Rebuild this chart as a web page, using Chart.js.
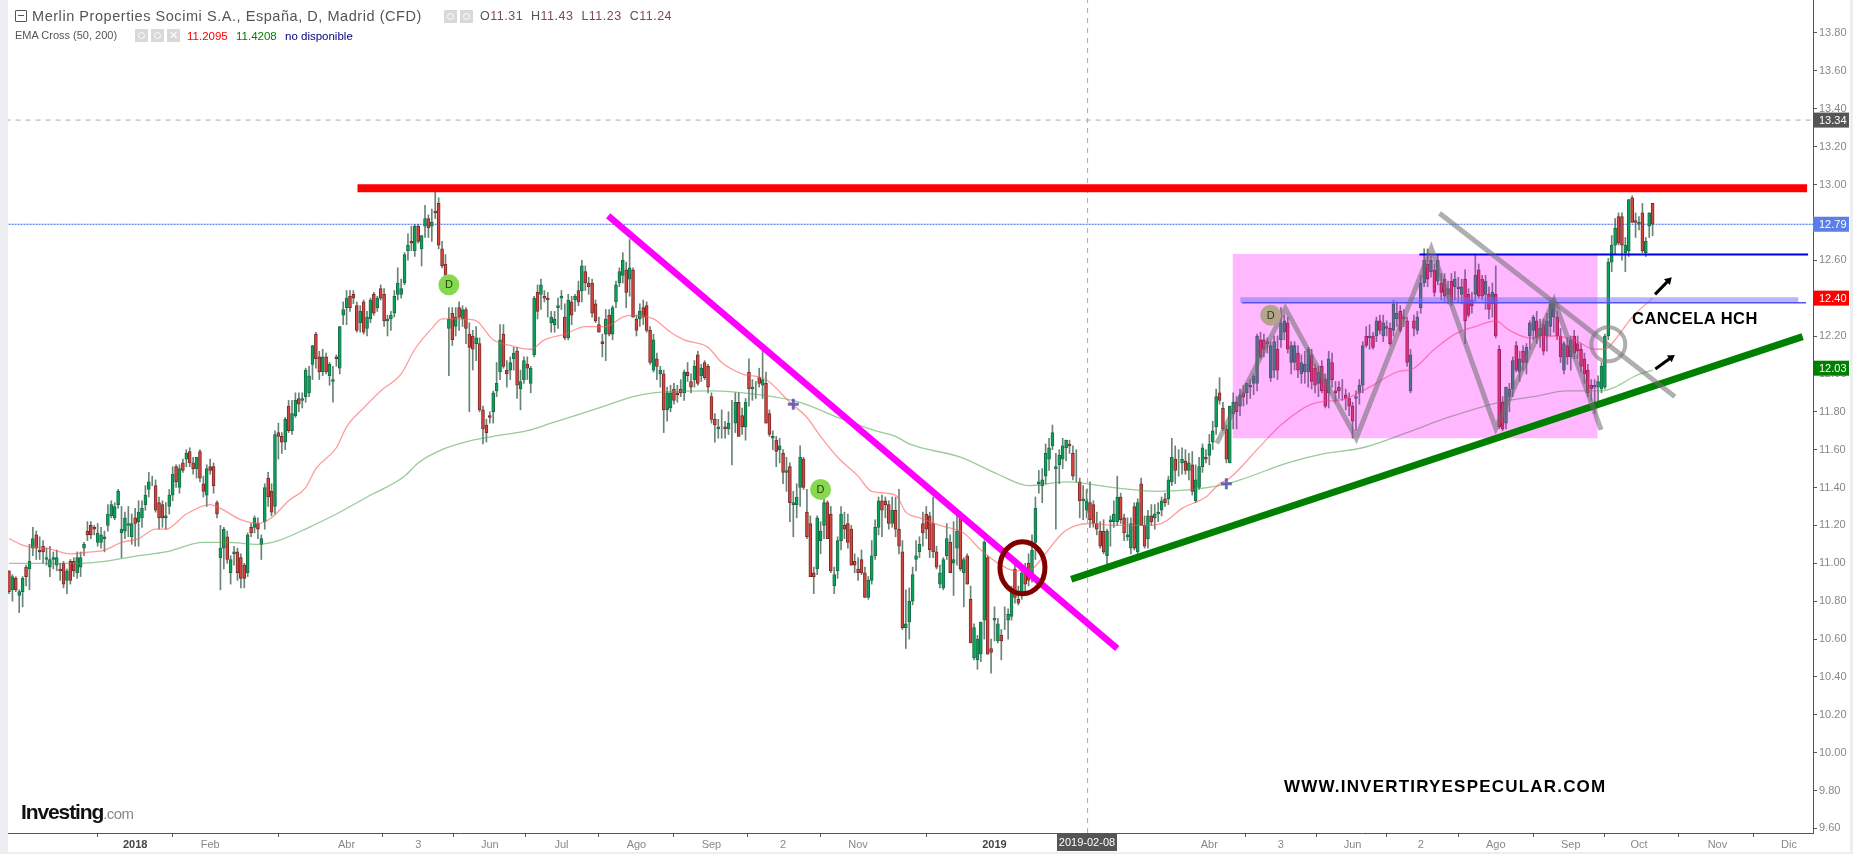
<!DOCTYPE html>
<html>
<head>
<meta charset="utf-8">
<title>Merlin Properties</title>
<script src="https://cdn.jsdelivr.net/npm/chart.js@4"></script>
<style>
    html, body { margin: 0; padding: 0; width: 1853px; height: 854px; overflow: hidden; background: #eceef2; font-family: "Liberation Sans", Arial, sans-serif; }
    #paper { position: absolute; left: 8px; top: 0; width: 1842px; height: 852px; background: #fff; }
    #wrap { position: absolute; left: 0; top: 0; width: 1853px; height: 854px; }
    #wrap canvas { filter: blur(0.35px); }
    .t { position: absolute; white-space: nowrap; }
    .ico { position: absolute; width: 13px; height: 13px; background: #d9d9d9; color: #fff; font-size: 11px; line-height: 13px; text-align: center; }
    .ico i { display: block; width: 5px; height: 5px; border: 1px solid #fff; border-radius: 50%; margin: 3px; }
</style>
</head>
<body>
<div id="paper"></div>
<div id="wrap"><canvas id="priceChart"></canvas></div>

<div style="position:absolute;left:15px;top:10px;width:10px;height:10px;border:1px solid #555;border-radius:1px"></div>
<div style="position:absolute;left:18px;top:15px;width:6px;height:1px;background:#555"></div>
<div class="t" style="left:32px;top:8px;font-size:14.5px;letter-spacing:.55px;color:#555">Merlin Properties Socimi S.A., España, D, Madrid (CFD)</div>
<div class="ico" style="left:444px;top:10px"><i></i></div>
<div class="ico" style="left:460px;top:10px"><i></i></div>
<div class="t" style="left:480px;top:9px;font-size:12.5px;letter-spacing:.5px;color:#555">O<span style="color:#7d4a4a">11.31</span>&nbsp;&nbsp;H<span style="color:#7d4a4a">11.43</span>&nbsp;&nbsp;L<span style="color:#7d4a4a">11.23</span>&nbsp;&nbsp;C<span style="color:#7d4a4a">11.24</span></div>
<div class="t" style="left:15px;top:29px;font-size:11px;color:#555">EMA Cross (50, 200)</div>
<div class="ico" style="left:135px;top:29px"><i></i></div>
<div class="ico" style="left:151px;top:29px"><i></i></div>
<div class="ico" style="left:167px;top:29px">✕</div>
<div class="t" style="left:187px;top:30px;font-size:11.5px;color:#ff0000">11.2095</div>
<div class="t" style="left:236px;top:30px;font-size:11.5px;color:#008000">11.4208</div>
<div class="t" style="left:285px;top:30px;font-size:11.5px;color:#000080">no disponible</div>

<div class="t" style="left:1632px;top:309px;font-size:16.5px;font-weight:bold;letter-spacing:.5px;color:#000">CANCELA HCH</div>
<div class="t" style="left:1284px;top:777px;font-size:17px;font-weight:bold;letter-spacing:1.2px;color:#000">WWW.INVERTIRYESPECULAR.COM</div>
<div class="t" style="left:21px;top:800px;font-size:21px;font-weight:bold;letter-spacing:-1.1px;color:#111">Investing<span style="font-size:15px;font-weight:normal;color:#888;letter-spacing:-.6px">.com</span></div>

<script>
// Daily candles, one entry per session
const opens = [
    10.96,10.86,10.92,10.83,10.85,10.98,10.97,11.08,11.15,11.07,
    11.09,11.02,10.98,11.02,10.99,10.97,11.00,10.91,11.01,11.01,
    10.95,10.98,11.08,11.17,11.20,11.19,11.11,11.11,11.13,11.20,
    11.25,11.24,11.31,11.16,11.17,11.20,11.14,11.24,11.22,11.24,
    11.31,11.39,11.43,11.41,11.32,11.31,11.24,11.30,11.36,11.51,
    11.40,11.53,11.55,11.59,11.53,11.50,11.59,11.42,11.36,11.51,
    11.51,11.32,11.03,11.08,11.14,10.95,11.05,11.06,11.03,10.99,
    10.95,11.19,11.19,11.21,11.10,11.22,11.45,11.38,11.30,11.69,
    11.67,11.64,11.83,11.70,11.78,11.87,11.86,11.88,11.90,12.05,
    12.21,12.09,12.01,12.09,11.99,11.96,12.09,12.03,12.31,12.35,
    12.41,12.42,12.36,12.27,12.38,12.24,12.29,12.42,12.35,12.45,
    12.42,12.28,12.29,12.32,12.42,12.42,12.48,12.65,12.70,12.65,
    12.78,12.66,12.78,12.82,12.78,12.86,12.90,12.66,12.58,12.24,
    12.32,12.25,12.35,12.29,12.34,12.21,12.20,12.16,12.16,11.81,
    11.73,11.78,11.80,11.91,12.01,12.21,12.02,12.02,12.08,12.12,
    11.92,11.97,12.05,11.95,12.10,12.43,12.42,12.41,12.40,12.27,
    12.26,12.35,12.40,12.30,12.19,12.38,12.39,12.44,12.44,12.54,
    12.48,12.48,12.37,12.26,12.17,12.21,12.31,12.21,12.38,12.48,
    12.52,12.55,12.50,12.55,12.29,12.29,12.35,12.36,12.23,12.02,
    12.08,12.00,12.00,11.81,11.82,11.92,11.90,11.92,11.90,12.01,
    11.96,11.97,12.10,11.99,12.06,12.04,11.88,11.76,11.71,11.71,
    11.72,11.71,11.73,11.74,11.85,11.78,11.72,12.01,11.92,11.93,
    11.98,11.94,11.95,11.79,11.66,11.65,11.60,11.58,11.48,11.51,
    11.31,11.31,11.40,11.55,11.27,11.21,10.95,10.97,11.12,11.20,
    11.32,11.26,10.88,10.96,11.12,11.20,11.21,11.18,11.01,10.97,
    11.02,10.95,10.82,10.91,11.04,11.19,11.33,11.33,11.31,11.21,
    11.28,11.18,11.06,10.66,10.69,10.80,11.02,11.06,11.21,11.26,
    11.25,11.21,11.06,10.89,10.87,11.04,11.11,11.00,11.08,11.24,
    10.95,11.04,10.81,10.50,10.49,10.52,10.70,11.03,10.55,10.70,
    10.59,10.62,10.71,10.70,10.72,10.97,10.81,10.84,10.96,11.00,
    10.94,11.11,11.42,11.41,11.46,11.55,11.62,11.50,11.52,11.55,
    11.61,11.63,11.58,11.49,11.43,11.33,11.28,11.32,11.31,11.21,
    11.17,11.17,11.04,11.22,11.22,11.22,11.35,11.24,11.14,11.08,
    11.30,11.06,11.42,11.20,11.13,11.25,11.24,11.26,11.28,11.34,
    11.34,11.43,11.55,11.53,11.53,11.54,11.49,11.52,11.33,11.40,
    11.51,11.56,11.57,11.64,11.72,11.90,11.82,11.71,11.53,11.79,
    11.85,11.83,11.90,11.90,11.93,11.95,11.95,12.18,12.18,12.16,
    11.98,12.02,12.13,12.18,12.22,12.27,12.06,12.06,12.11,12.00,
    12.01,12.01,12.10,12.03,11.95,12.04,11.97,11.90,12.06,11.91,
    11.93,11.93,11.89,11.87,11.83,11.87,11.90,11.94,12.20,12.19,
    12.20,12.20,12.28,12.20,12.24,12.24,12.23,12.29,12.33,12.30,
    12.28,11.91,12.28,12.23,12.35,12.48,12.58,12.54,12.55,12.49,
    12.48,12.50,12.42,12.49,12.46,12.45,12.42,12.50,12.42,12.39,
    12.42,12.55,12.50,12.42,12.42,12.37,12.42,12.13,11.85,11.74,
    11.88,11.92,12.15,12.01,12.12,12.06,12.20,12.23,12.28,12.20,
    12.26,12.20,12.25,12.30,12.30,12.20,12.02,12.15,12.09,12.20,
    12.16,12.13,12.08,12.02,11.94,11.93,11.93,11.92,11.93,12.20,
    12.59,12.68,12.83,12.83,12.64,12.65,12.93,12.81,12.79,12.85,
    12.64,12.78,12.90
];
const highs = [
    10.96,10.94,10.93,10.86,10.93,10.99,11.10,11.19,11.17,11.14,
    11.12,11.08,11.09,11.06,11.07,11.00,11.01,10.97,11.02,11.03,
    11.06,11.06,11.11,11.22,11.22,11.20,11.21,11.19,11.17,11.31,
    11.33,11.32,11.39,11.30,11.27,11.30,11.26,11.29,11.33,11.33,
    11.41,11.48,11.46,11.44,11.35,11.33,11.32,11.39,11.51,11.52,
    11.52,11.55,11.60,11.61,11.56,11.56,11.60,11.46,11.52,11.55,
    11.53,11.33,11.20,11.19,11.17,11.04,11.09,11.08,11.05,11.00,
    11.16,11.21,11.25,11.24,11.15,11.42,11.48,11.42,11.70,11.74,
    11.69,11.77,11.86,11.86,11.90,11.90,11.90,12.03,12.04,12.15,
    12.22,12.12,12.13,12.11,12.06,12.04,12.10,12.25,12.38,12.44,
    12.44,12.44,12.38,12.36,12.39,12.33,12.40,12.43,12.41,12.47,
    12.45,12.31,12.33,12.44,12.56,12.50,12.64,12.74,12.78,12.79,
    12.79,12.73,12.89,12.84,12.87,12.96,12.93,12.70,12.63,12.35,
    12.35,12.35,12.38,12.36,12.35,12.27,12.23,12.25,12.19,11.83,
    11.76,11.80,11.91,12.06,12.26,12.26,12.07,12.09,12.14,12.14,
    12.02,12.09,12.09,12.04,12.41,12.47,12.50,12.44,12.43,12.33,
    12.33,12.40,12.44,12.37,12.42,12.41,12.42,12.49,12.60,12.57,
    12.51,12.50,12.39,12.30,12.21,12.34,12.34,12.36,12.49,12.56,
    12.64,12.59,12.71,12.56,12.31,12.37,12.39,12.38,12.25,12.21,
    12.11,12.04,12.02,11.93,11.94,11.95,11.94,11.97,12.02,12.06,
    12.00,12.07,12.12,12.05,12.07,12.05,11.90,11.79,11.76,11.81,
    11.75,11.80,11.86,11.90,11.90,11.82,11.87,12.08,11.97,11.96,
    12.03,12.13,12.01,11.81,11.70,11.67,11.66,11.60,11.56,11.53,
    11.38,11.42,11.62,11.56,11.39,11.25,10.98,11.25,11.22,11.34,
    11.33,11.30,10.98,11.14,11.30,11.27,11.26,11.20,11.05,11.03,
    11.07,10.98,10.93,11.12,11.23,11.35,11.36,11.35,11.33,11.35,
    11.35,11.39,11.12,10.86,10.87,10.98,11.12,11.14,11.27,11.30,
    11.27,11.35,11.09,10.99,11.03,11.21,11.15,11.22,11.26,11.27,
    11.03,11.05,10.88,10.68,10.62,10.69,11.12,11.04,10.60,10.77,
    10.71,10.65,10.77,10.76,10.88,11.00,10.88,10.96,11.00,11.05,
    11.15,11.35,11.49,11.50,11.63,11.66,11.73,11.58,11.60,11.66,
    11.65,11.65,11.62,11.60,11.45,11.41,11.39,11.43,11.33,11.27,
    11.22,11.23,11.18,11.25,11.33,11.46,11.37,11.26,11.24,11.24,
    11.32,11.34,11.45,11.25,11.28,11.31,11.31,11.32,11.35,11.37,
    11.46,11.66,11.62,11.60,11.61,11.60,11.58,11.59,11.52,11.56,
    11.63,11.60,11.68,11.75,11.92,11.98,11.85,11.73,11.83,11.90,
    11.88,11.92,11.94,11.95,11.97,12.00,12.21,12.22,12.21,12.19,
    12.17,12.20,12.20,12.35,12.31,12.30,12.17,12.17,12.15,12.10,
    12.12,12.14,12.13,12.05,12.04,12.07,12.00,12.12,12.11,11.96,
    11.96,11.97,11.92,11.90,11.85,11.91,11.97,12.17,12.25,12.26,
    12.22,12.30,12.31,12.31,12.28,12.27,12.39,12.38,12.36,12.34,
    12.30,12.13,12.31,12.33,12.52,12.66,12.66,12.62,12.58,12.63,
    12.53,12.53,12.49,12.53,12.54,12.51,12.50,12.55,12.45,12.43,
    12.63,12.58,12.52,12.52,12.46,12.48,12.57,12.15,11.88,11.93,
    11.95,12.09,12.17,12.12,12.15,12.16,12.28,12.31,12.33,12.29,
    12.29,12.32,12.39,12.40,12.33,12.24,12.17,12.19,12.20,12.23,
    12.20,12.16,12.11,12.05,11.97,11.97,11.99,12.06,12.21,12.61,
    12.73,12.82,12.85,12.85,12.72,12.92,12.94,12.85,12.83,12.90,
    12.72,12.85,12.90
];
const lows = [
    10.84,10.80,10.85,10.74,10.77,10.88,10.86,11.04,11.02,11.02,
    11.00,10.99,10.93,10.97,10.96,10.91,10.87,10.84,10.89,10.93,
    10.92,10.93,11.04,11.12,11.13,11.15,11.09,11.08,11.06,11.17,
    11.24,11.23,11.29,11.03,11.13,11.14,11.10,11.09,11.09,11.19,
    11.28,11.35,11.41,11.27,11.18,11.19,11.18,11.26,11.33,11.40,
    11.37,11.48,11.51,11.51,11.47,11.45,11.43,11.35,11.30,11.47,
    11.37,11.24,10.86,10.97,11.00,10.89,10.99,10.91,10.87,10.87,
    10.93,11.14,11.16,11.13,11.02,11.18,11.30,11.25,11.26,11.55,
    11.58,11.60,11.69,11.68,11.77,11.80,11.82,11.85,11.88,11.97,
    12.03,11.97,11.99,12.00,11.94,11.85,12.04,12.00,12.26,12.26,
    12.33,12.37,12.22,12.22,12.21,12.20,12.27,12.31,12.33,12.39,
    12.25,12.20,12.23,12.30,12.39,12.40,12.47,12.60,12.65,12.62,
    12.69,12.57,12.72,12.72,12.70,12.82,12.66,12.56,12.49,11.99,
    12.15,12.20,12.23,12.25,12.16,11.80,12.02,12.07,11.80,11.63,
    11.64,11.74,11.74,11.88,11.97,12.03,11.93,11.97,12.02,11.87,
    11.81,11.95,11.97,11.90,12.09,12.29,12.34,12.38,12.30,12.22,
    12.22,12.24,12.34,12.18,12.18,12.26,12.33,12.36,12.38,12.44,
    12.42,12.30,12.27,12.22,12.09,12.07,12.20,12.18,12.35,12.46,
    12.48,12.35,12.41,12.30,12.20,12.25,12.26,12.22,12.05,12.01,
    11.97,11.93,11.69,11.75,11.80,11.84,11.85,11.88,11.86,11.96,
    11.90,11.93,11.94,11.96,11.97,11.90,11.74,11.64,11.66,11.66,
    11.66,11.68,11.52,11.69,11.67,11.68,11.65,11.83,11.86,11.87,
    11.93,11.87,11.74,11.67,11.60,11.51,11.53,11.42,11.38,11.22,
    11.14,11.24,11.30,11.39,11.13,10.93,10.84,10.94,11.05,11.13,
    11.13,10.95,10.84,10.92,11.07,11.13,11.08,10.99,10.95,10.91,
    10.94,10.82,10.81,10.89,11.02,11.15,11.14,11.24,11.18,11.19,
    11.14,11.05,10.65,10.55,10.60,10.78,10.96,11.03,11.09,11.13,
    11.03,11.03,10.97,10.87,10.86,11.02,10.95,10.83,10.99,10.96,
    10.77,10.89,10.58,10.49,10.44,10.48,10.60,10.52,10.42,10.59,
    10.58,10.49,10.65,10.60,10.70,10.79,10.78,10.81,10.85,10.88,
    10.90,11.02,11.37,11.32,11.42,11.49,11.60,11.18,11.42,11.50,
    11.54,11.58,11.44,11.43,11.24,11.23,11.24,11.19,11.19,11.15,
    11.08,11.05,10.99,11.09,11.19,11.20,11.21,11.12,11.12,11.05,
    11.07,11.04,11.20,11.08,11.08,11.20,11.18,11.22,11.25,11.30,
    11.31,11.41,11.42,11.46,11.47,11.47,11.44,11.36,11.32,11.39,
    11.48,11.53,11.52,11.60,11.68,11.84,11.70,11.53,11.53,11.71,
    11.71,11.78,11.83,11.84,11.87,11.89,11.91,12.08,12.09,12.11,
    11.96,11.98,11.97,12.14,12.18,12.11,12.00,12.02,11.98,11.95,
    11.95,11.93,11.92,11.90,11.88,11.90,11.82,11.82,11.93,11.85,
    11.87,11.86,11.81,11.78,11.66,11.70,11.84,11.90,12.14,12.13,
    12.13,12.17,12.21,12.17,12.20,12.15,12.20,12.25,12.22,12.25,
    12.04,11.90,12.20,12.21,12.32,12.46,12.46,12.51,12.41,12.47,
    12.39,12.38,12.37,12.36,12.39,12.38,12.37,12.16,12.30,12.32,
    12.38,12.40,12.39,12.34,12.29,12.30,12.19,11.71,11.70,11.71,
    11.80,11.88,12.01,11.96,12.02,12.00,12.13,12.18,12.16,12.14,
    12.10,12.12,12.20,12.22,12.18,12.06,12.00,12.05,12.02,12.08,
    12.08,12.01,11.95,11.88,11.86,11.79,11.85,11.90,11.92,12.18,
    12.54,12.63,12.68,12.60,12.54,12.62,12.80,12.72,12.76,12.64,
    12.62,12.72,12.73
];
const closes = [
    10.85,10.93,10.86,10.85,10.92,10.93,11.01,11.13,11.08,11.06,
    11.06,11.03,11.02,11.03,11.03,10.96,10.89,10.96,10.91,10.96,
    11.03,11.03,11.10,11.15,11.15,11.18,11.16,11.15,11.14,11.26,
    11.31,11.30,11.38,11.18,11.24,11.21,11.21,11.21,11.27,11.29,
    11.36,11.43,11.43,11.28,11.24,11.24,11.25,11.36,11.47,11.43,
    11.50,11.49,11.58,11.53,11.50,11.56,11.45,11.38,11.50,11.49,
    11.41,11.26,11.08,11.18,11.02,11.02,11.06,10.95,10.92,10.92,
    11.15,11.16,11.24,11.18,11.13,11.40,11.35,11.27,11.68,11.67,
    11.64,11.76,11.70,11.79,11.86,11.84,11.87,12.02,11.99,12.15,
    12.08,12.01,12.09,12.01,12.05,11.97,12.08,12.25,12.34,12.40,
    12.35,12.40,12.23,12.33,12.22,12.30,12.39,12.32,12.40,12.40,
    12.28,12.29,12.31,12.41,12.48,12.45,12.63,12.68,12.69,12.78,
    12.70,12.73,12.82,12.77,12.80,12.85,12.68,12.57,12.52,12.29,
    12.18,12.30,12.30,12.34,12.24,12.14,12.13,12.19,11.81,11.71,
    11.69,11.77,11.90,11.95,12.18,12.04,12.00,12.06,12.11,11.94,
    11.96,12.07,12.03,12.03,12.40,12.33,12.47,12.40,12.39,12.30,
    12.29,12.36,12.41,12.19,12.39,12.31,12.41,12.38,12.57,12.48,
    12.46,12.32,12.28,12.22,12.16,12.29,12.21,12.35,12.47,12.54,
    12.60,12.43,12.56,12.30,12.23,12.33,12.30,12.23,12.06,12.18,
    12.04,12.02,11.81,11.90,11.90,11.86,11.89,11.90,12.01,11.99,
    11.93,12.04,11.95,12.03,11.98,11.93,11.76,11.73,11.72,11.71,
    11.71,11.74,11.73,11.85,11.67,11.72,11.85,11.92,11.93,11.93,
    11.95,11.97,11.74,11.68,11.67,11.59,11.62,11.48,11.49,11.32,
    11.32,11.35,11.56,11.40,11.14,10.93,10.93,11.24,11.17,11.32,
    11.13,10.96,10.94,11.12,11.26,11.18,11.11,10.99,10.99,10.95,
    10.95,10.82,10.91,11.04,11.19,11.33,11.28,11.31,11.21,11.28,
    11.18,11.09,10.66,10.68,10.80,10.94,11.04,11.10,11.16,11.18,
    11.07,11.06,10.98,10.95,11.02,11.13,10.95,11.02,11.17,10.97,
    11.02,10.89,10.58,10.66,10.60,10.69,11.11,10.52,10.53,10.71,
    10.68,10.59,10.71,10.73,10.86,10.82,10.79,10.95,10.89,10.91,
    11.07,11.29,11.43,11.44,11.58,11.61,11.69,11.51,11.57,11.62,
    11.65,11.62,11.46,11.49,11.33,11.34,11.33,11.23,11.21,11.18,
    11.09,11.06,11.17,11.23,11.26,11.35,11.23,11.16,11.15,11.21,
    11.08,11.32,11.20,11.09,11.25,11.22,11.26,11.27,11.33,11.32,
    11.44,11.56,11.49,11.53,11.55,11.49,11.53,11.38,11.44,11.51,
    11.61,11.55,11.63,11.70,11.88,11.86,11.71,11.55,11.83,11.85,
    11.80,11.89,11.88,11.95,11.94,11.99,12.20,12.09,12.13,12.17,
    12.15,12.17,12.02,12.27,12.28,12.13,12.15,12.15,12.02,12.06,
    12.05,12.13,11.96,11.94,12.01,11.91,11.83,12.08,11.97,11.90,
    11.91,11.93,11.87,11.83,11.75,11.88,11.94,12.15,12.15,12.20,
    12.14,12.28,12.23,12.27,12.25,12.16,12.37,12.32,12.23,12.29,
    12.06,12.10,12.24,12.30,12.48,12.60,12.50,12.60,12.43,12.60,
    12.43,12.41,12.45,12.38,12.50,12.46,12.46,12.28,12.31,12.36,
    12.52,12.41,12.41,12.49,12.34,12.43,12.20,11.72,11.71,11.93,
    11.92,12.07,12.02,12.08,12.06,12.14,12.27,12.30,12.19,12.24,
    12.12,12.28,12.37,12.38,12.20,12.09,12.16,12.09,12.18,12.11,
    12.12,12.04,12.00,11.90,11.92,11.94,11.96,12.04,12.20,12.59,
    12.68,12.77,12.69,12.68,12.68,12.92,12.80,12.80,12.80,12.65,
    12.70,12.85,12.79
];

// EMA curves, read at the bends
const ema50Days = [0,5,11,18,24,28,33,38,43,46,52,59,62,68,73,77,82,87,90,96,99,104,109,115,119,124,127,133,137,142,147,153,157,163,169,175,180,183,189,194,198,205,209,215,222,229,234,238,243,249,253,260,263,267,273,280,285,291,295,300,303,309,313,317,324,332,338,344,351,355,358,367,373,382,392,399,407,412,418,424,430,436,440,446,453,459,465,468,471,476,482];
const ema50Values = [11.13,11.09,11.08,11.05,11.06,11.07,11.11,11.13,11.18,11.18,11.26,11.31,11.29,11.23,11.21,11.24,11.33,11.40,11.50,11.61,11.72,11.82,11.91,12.00,12.13,12.24,12.29,12.29,12.28,12.18,12.15,12.13,12.18,12.21,12.25,12.25,12.30,12.31,12.29,12.22,12.18,12.14,12.06,12.00,11.97,11.85,11.77,11.67,11.56,11.46,11.38,11.36,11.27,11.24,11.20,11.16,11.07,10.99,10.96,10.97,11.03,11.16,11.20,11.21,11.20,11.20,11.21,11.29,11.35,11.42,11.45,11.62,11.73,11.84,11.87,11.93,12.01,12.03,12.13,12.21,12.25,12.28,12.23,12.19,12.20,12.18,12.13,12.13,12.18,12.30,12.40];
const ema200Days = [0,5,12,21,28,38,46,57,64,73,79,88,96,105,116,120,127,136,142,152,159,166,173,183,189,206,220,232,243,254,260,264,279,290,299,310,324,336,355,361,375,386,397,410,422,437,447,457,467,471,477,482];
const ema200Values = [11.00,11.00,11.00,11.00,11.01,11.04,11.06,11.11,11.11,11.10,11.12,11.19,11.26,11.35,11.46,11.53,11.60,11.65,11.67,11.70,11.74,11.78,11.82,11.88,11.90,11.91,11.89,11.85,11.77,11.70,11.67,11.63,11.56,11.47,11.41,11.43,11.40,11.38,11.41,11.44,11.53,11.58,11.61,11.69,11.77,11.85,11.88,11.91,11.91,11.93,11.99,12.02];

// Axis ticks
const priceTicks = [9.6,9.8,10,10.2,10.4,10.6,10.8,11,11.2,11.4,11.6,11.8,12,12.2,12.4,12.6,12.8,13,13.2,13.4,13.6,13.8];
const dayTicks = [37,59,99,120,141,162,184,206,227,249,289,352,373,394,414,436,458,478,501,522];
const dayTickLabels = ['2018','Feb','Abr','3','Jun','Jul','Ago','Sep','2','Nov','2019','Abr','3','Jun','2','Ago','Sep','Oct','Nov','Dic'];

// Drawn-on trend lines, in session / price
const resistDays = [102.2,527.3], resistPrices = [12.98,12.98];
const downTrendDays = [175.7,325], downTrendPrices = [12.835,10.55];
const upTrendDays = [311.5,526], upTrendPrices = [10.916,12.197];
const topLineDays = [413.6,527.6], topLinePrices = [12.63,12.63];
const bandDays = [361.1,524.7], bandPrices = [12.39,12.39];
const neckDays = [361.6,527], neckPrices = [12.375,12.375];
const boxDays = [358.8,465.9], boxTop = 12.633, boxBottom = 11.66;
const zigzagDays = [354.2,374.3,395.1,417.1,436,453.1,466.9];
const zigzagPrices = [11.633,12.346,11.66,12.663,11.713,12.39,11.704];
const neckDownDays = [419.5,488.5], neckDownPrices = [12.848,11.88];
const arrowFrom = [[482.7,12.42],[482.8,12.026]];
const arrowTo = [[487.6,12.51],[488.5,12.10]];
const dotDays = [129,238,370], dotPrices = [12.47,11.39,12.31], dotColors = ['#86d94f','#86d94f','#b3a58c'];
const crossDays = [230,357], crossPrices = [11.84,11.42];
const crossDay = 316.3, crossPrice = 13.34, lastPrice = 12.79;

const GREEN = '#05a65c', RED = '#d8453f';
const days = closes.map((c, i) => i);
const lineSet = (xs, ys, color, width, order, extra) => Object.assign({
    type: 'line',
    data: xs.map((x, i) => ({ x: x, y: ys[i] })),
    borderColor: color,
    borderWidth: width,
    pointRadius: 0,
    order: order
}, extra || {});

const labelsPlugin = {
    id: 'labelsPlugin',
    afterDraw(chart) {
        const ctx = chart.ctx, xs = chart.scales.x, ys = chart.scales.y;
        ctx.save();
        // circled areas
        [[297.2, 10.977, 22.5, 26, '#800000', 5], [469, 12.156, 17, 17, 'rgba(120,120,120,0.6)', 4]].forEach(c => {
            ctx.beginPath();
            ctx.ellipse(xs.getPixelForValue(c[0]), ys.getPixelForValue(c[1]), c[2], c[3], 0, 0, Math.PI * 2);
            ctx.strokeStyle = c[4];
            ctx.lineWidth = c[5];
            ctx.stroke();
        });
        // arrows
        arrowFrom.forEach((from, i) => {
            const x1 = xs.getPixelForValue(from[0]), y1 = ys.getPixelForValue(from[1]);
            const x2 = xs.getPixelForValue(arrowTo[i][0]), y2 = ys.getPixelForValue(arrowTo[i][1]);
            const a = Math.atan2(y2 - y1, x2 - x1);
            ctx.strokeStyle = '#000';
            ctx.fillStyle = '#000';
            ctx.lineWidth = 3;
            ctx.beginPath();
            ctx.moveTo(x1, y1);
            ctx.lineTo(x2 - 4 * Math.cos(a), y2 - 4 * Math.sin(a));
            ctx.stroke();
            ctx.beginPath();
            ctx.moveTo(x2, y2);
            ctx.lineTo(x2 - 8 * Math.cos(a - 0.55), y2 - 8 * Math.sin(a - 0.55));
            ctx.lineTo(x2 - 8 * Math.cos(a + 0.55), y2 - 8 * Math.sin(a + 0.55));
            ctx.fill();
        });
        // blue crosses
        ctx.strokeStyle = 'rgba(60,60,170,0.75)';
        ctx.lineWidth = 3;
        crossDays.forEach((d, i) => {
            const x = xs.getPixelForValue(d), y = ys.getPixelForValue(crossPrices[i]);
            ctx.beginPath();
            ctx.moveTo(x - 5.5, y);
            ctx.lineTo(x + 5.5, y);
            ctx.moveTo(x, y - 5.5);
            ctx.lineTo(x, y + 5.5);
            ctx.stroke();
        });
        // D markers
        ctx.font = '11px "Liberation Sans"';
        ctx.textAlign = 'center';
        ctx.textBaseline = 'middle';
        dotDays.forEach((d, i) => {
            const x = xs.getPixelForValue(d), y = ys.getPixelForValue(dotPrices[i]);
            ctx.fillStyle = dotColors[i];
            ctx.beginPath();
            ctx.arc(x, y, 10.5, 0, Math.PI * 2);
            ctx.fill();
            ctx.fillStyle = '#2b3a1a';
            ctx.fillText('D', x, y + 0.5);
        });
        // price badges on the axis
        ctx.font = '11px "Liberation Sans"';
        [[13.34, '13.34', '#555555'], [12.79, '12.79', '#5b7fe6'], [12.40, '12.40', '#ff0000'], [12.03, '12.03', '#008000']].forEach(b => {
            const y = ys.getPixelForValue(b[0]);
            ctx.fillStyle = b[2];
            ctx.fillRect(1813, y - 7.5, 36, 15);
            ctx.fillStyle = '#fff';
            ctx.textAlign = 'left';
            ctx.fillText(b[1], 1819, y + 0.5);
        });
        // date badge under the crosshair
        ctx.fillStyle = '#555555';
        ctx.fillRect(1057, 834, 60, 17);
        ctx.fillStyle = '#fff';
        ctx.font = '11px "Liberation Sans"';
        ctx.textAlign = 'center';
        ctx.fillText('2019-02-08', 1087, 843);
        ctx.restore();
    }
};

new Chart(document.getElementById('priceChart'), {
    type: 'bar',
    data: {
        datasets: [
            // wicks and bodies
            {
                data: days.map(i => ({ x: i, y: [lows[i], highs[i]] })),
                backgroundColor: 'rgba(55,90,72,0.75)',
                barThickness: 1,
                grouped: false,
                order: 20
            },
            {
                data: days.map(i => ({ x: i, y: [opens[i], closes[i]] })),
                backgroundColor: days.map(i => closes[i] >= opens[i] ? GREEN : RED),
                borderColor: days.map(i => closes[i] >= opens[i] ? '#1d6b47' : '#7a2b28'),
                borderWidth: 1,
                borderSkipped: false,
                barThickness: 3,
                grouped: false,
                order: 19
            },
            // crosshair and last price
            lineSet([crossDay, crossDay], [9.576, 13.974], '#aaa', 1, 25, { borderDash: [5, 5] }),
            lineSet([-1, 530], [crossPrice, crossPrice], '#aaa', 1, 25, { borderDash: [5, 5] }),
            lineSet([-1, 530], [lastPrice, lastPrice], '#2f5ff0', 1, 25, { borderDash: [2, 1] }),
            // EMAs
            lineSet(ema50Days, ema50Values, 'rgba(255,90,90,0.6)', 1.3, 15, { cubicInterpolationMode: 'monotone' }),
            lineSet(ema200Days, ema200Values, 'rgba(70,160,70,0.55)', 1.3, 15, { cubicInterpolationMode: 'monotone' }),
            // pink box
            lineSet(boxDays, [boxTop, boxTop], 'rgba(0,0,0,0)', 0, 12, { fill: { value: boxBottom }, backgroundColor: 'rgba(255,0,255,0.28)' }),
            // drawn lines
            lineSet(upTrendDays, upTrendPrices, 'rgba(0,128,0,1)', 7, 8),
            lineSet(downTrendDays, downTrendPrices, '#ff00ff', 6.5, 7),
            lineSet(resistDays, resistPrices, '#ff0000', 8, 7),
            lineSet(bandDays, bandPrices, 'rgba(110,110,255,0.5)', 5.5, 7),
            lineSet(neckDays, neckPrices, '#5a50f0', 1.5, 6),
            lineSet(topLineDays, topLinePrices, '#0000e6', 2, 6),
            lineSet(zigzagDays, zigzagPrices, 'rgba(110,110,110,0.55)', 5, 5, { borderJoinStyle: 'miter' }),
            lineSet(neckDownDays, neckDownPrices, 'rgba(110,110,110,0.55)', 5, 5)
        ]
    },
    options: {
        responsive: true,
        maintainAspectRatio: false,
        animation: false,
        events: [],
        layout: { autoPadding: false, padding: { left: 8, right: 0, top: 0, bottom: 0 } },
        plugins: { legend: { display: false }, tooltip: { enabled: false } },
        scales: {
            x: {
                type: 'linear',
                min: -0.29,
                max: 529.03,
                offset: false,
                border: { color: '#555', width: 1 },
                grid: { drawOnChartArea: false, tickLength: 4, color: '#555' },
                afterBuildTicks: scale => { scale.ticks = dayTicks.map(v => ({ value: v })); },
                afterFit: scale => { scale.height = 21; scale.paddingLeft = 0; scale.paddingRight = 0; },
                ticks: {
                    autoSkip: false,
                    maxRotation: 0,
                    padding: 1,
                    callback: (v, idx) => dayTickLabels[idx],
                    color: ctx => /^\d{4}$/.test(dayTickLabels[ctx.index]) ? '#444' : '#888',
                    font: ctx => ({ family: '"Liberation Sans"', size: 11, weight: /^\d{4}$/.test(dayTickLabels[ctx.index]) ? 'bold' : 'normal' })
                }
            },
            y: {
                position: 'right',
                min: 9.576,
                max: 13.974,
                border: { color: '#555', width: 1 },
                grid: { drawOnChartArea: false, tickLength: 4, color: '#555' },
                afterBuildTicks: scale => { scale.ticks = priceTicks.map(v => ({ value: v })); },
                afterFit: scale => { scale.width = 40; scale.paddingTop = 0; scale.paddingBottom = 0; },
                ticks: {
                    padding: 2,
                    callback: v => v.toFixed(2),
                    color: '#888',
                    font: { family: '"Liberation Sans"', size: 11 }
                }
            }
        }
    },
    plugins: [labelsPlugin]
});
</script>
</body>
</html>
